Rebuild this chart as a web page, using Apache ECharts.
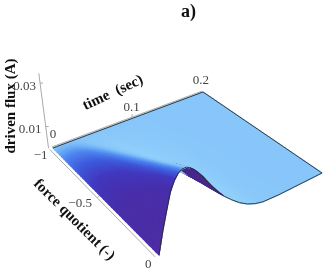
<!DOCTYPE html>
<html><head><meta charset="utf-8">
<style>html,body{margin:0;padding:0;background:#fff}#c{width:335px;height:276px}</style>
<script src="https://cdn.jsdelivr.net/npm/echarts@6/dist/echarts.min.js"></script>
</head><body><div id="c"></div>
<script>
// ---- data ----
const times = [0,.004,.008,.012,.016,.02,.024,.028,.032,.036,.04,.045,.05,.055,.06,.065,.07,.08,.09,.1,.11,.12,.14,.16,.2];
const forces = [-1,-.8,-.6,-.4,-.2,0];
// driven flux in milli-units, one row per force value
const fluxQm10 = [0,0,0,0,0,0,0,0,0,0,0,0,0,0,0,0,0,0,0,0,0,0,0,0,0];
const fluxQm08 = [0,1.6,3,4.4,5.1,5.6,5.8,5.8,5.6,5.3,5,4.6,4,3.5,3,2.6,2.2,1.6,1,.6,.3,.1,0,0,0];
const fluxQm06 = [0,3.2,6,8.7,10.2,11.2,11.5,11.6,11.2,10.7,10,9.1,8.1,7,6.1,5.2,4.4,3.1,2,1.1,.5,.2,0,0,0];
const fluxQm04 = [0,4.8,9,13.1,15.4,16.7,17.3,17.3,16.8,16,15,13.7,12.1,10.6,9.1,7.8,6.6,4.7,3,1.7,.8,.2,0,0,0];
const fluxQm02 = [0,6.4,12,17.4,20.5,22.3,23,23.1,22.4,21.4,20,18.2,16.2,14.1,12.2,10.4,8.8,6.2,4,2.2,1,.3,0,0,0];
const fluxQ00  = [0,8,15,21.8,25.6,27.9,28.8,28.9,28,26.7,25,22.8,20.2,17.6,15.2,13,11,7.8,5,2.8,1.3,.4,0,0,0];
const timeTicks = [0,0.1,0.2];
const forceTicks = [-1,-0.5,0];
const fluxTicks = [0.01,0.03];
const fluxRows = [fluxQm10,fluxQm08,fluxQm06,fluxQm04,fluxQm02,fluxQ00];

// ---- 3D box projection onto the page plane ----
const tMax = .2;
const box = {A:[53,148],B:[203,92],C:[322,173],D:[159,255]};
const fluxPx = 2170, fluxLean = .00107, leanX = 170;
const H = (() => {
  const {A,B,C,D} = box;
  const d1=[B[0]-C[0],B[1]-C[1]], d2=[D[0]-C[0],D[1]-C[1]], s=[A[0]-B[0]+C[0]-D[0],A[1]-B[1]+C[1]-D[1]];
  const det=d1[0]*d2[1]-d2[0]*d1[1];
  const g=(s[0]*d2[1]-d2[0]*s[1])/det, h=(d1[0]*s[1]-s[0]*d1[1])/det;
  return {g,h,a:B[0]*(1+g)-A[0],b:D[0]*(1+h)-A[0],c:A[0],d:B[1]*(1+g)-A[1],e:D[1]*(1+h)-A[1],f:A[1]};
})();
function weight(t,q){return 1+H.g*t/tMax+H.h*(q+1);}
function project(t,q,z){
  const u=t/tMax,v=q+1,w=1+H.g*u+H.h*v;
  const x=(H.a*u+H.b*v+H.c)/w,y=(H.d*u+H.e*v+H.f)/w;
  const h=z*fluxPx/w;
  return [x+(x-leanX)*fluxLean*h,y-h];
}

// ---- colour from local slope of the surface ----
const ramp=[[-.6,[152,216,253]],[-.2,[144,207,251]],[0,[136,198,250]],[.1,[112,178,247]],[.25,[80,135,240]],[.5,[62,90,220]],[.8,[66,56,190]],[1.2,[72,46,170]],[2.2,[78,44,160]]];
function slopeColor(s){
  if(s<=ramp[0][0])return ramp[0][1];
  for(let k=1;k<ramp.length;k++){if(s<=ramp[k][0]){const a=ramp[k-1],b=ramp[k],f=(s-a[0])/(b[0]-a[0]);return a[1].map((c,i)=>c+(b[1][i]-c)*f);}}
  return ramp[ramp.length-1][1];
}
const nodeSlope=fluxRows.map(r=>r.map((_,i)=>{
  const a=Math.max(i-2,0),b=Math.min(i+2,r.length-1);
  return (r[b]-r[a])/1000/(times[b]-times[a]);
}));
const backColor=[72,40,140];
const cells=[];
for(let j=0;j<forces.length-1;j++){
  for(let i=0;i<times.length-1;i++){
    const dt=times[i+1]-times[i],nu=times[i]<.04?4:Math.max(2,Math.ceil(dt/.004)),nv=8;
    const val=(a,b)=>{const r0=fluxRows[j],r1=fluxRows[j+1];return ((r0[i]*(1-a)+r0[i+1]*a)*(1-b)+(r1[i]*(1-a)+r1[i+1]*a)*b)/1000;};
    const slo=(a,b)=>{const r0=nodeSlope[j],r1=nodeSlope[j+1];return (r0[i]*(1-a)+r0[i+1]*a)*(1-b)+(r1[i]*(1-a)+r1[i+1]*a)*b;};
    for(let m=0;m<nu;m++)for(let n=0;n<nv;n++){
      const a0=m/nu,a1=(m+1)/nu,b0=n/nv,b1=(n+1)/nv;
      const tA=times[i]+dt*a0,tB=times[i]+dt*a1,qA=forces[j]+(forces[j+1]-forces[j])*b0,qB=forces[j]+(forces[j+1]-forces[j])*b1;
      const pts=[project(tA,qA,val(a0,b0)),project(tB,qA,val(a1,b0)),project(tB,qB,val(a1,b1)),project(tA,qB,val(a0,b1))];
      const cross=(pts[1][0]-pts[0][0])*(pts[3][1]-pts[0][1])-(pts[1][1]-pts[0][1])*(pts[3][0]-pts[0][0]);
      const s=slo((a0+a1)/2,(b0+b1)/2);
      const under=cross<0&&((qB>-.25&&(s<-.4||(tA>.055&&s<-.15)))||(qA>-.15&&s<-.15));
      const col=under?backColor:slopeColor(s);
      // the rising face is always nearest to the viewer, so it is painted after the falling sheet
      const pass=s>0&&tB<.03?1:0;
      cells.push({pts,col:`rgb(${col.map(Math.round).join(',')})`,pass,t:tA,depth:weight((tA+tB)/2,(qA+qB)/2)});
    }
  }
}
cells.sort((a,b)=>a.pass-b.pass||(a.pass?b.t-a.t||b.depth-a.depth:b.depth-a.depth));

const grey='#aaaaaa',edge='#2b2b2b';
const tickFont='13px "Liberation Serif"',tickCol='#444';
const axisT=-.004,axisQ=-1.012;
const lines=[];const labels=[];
const add=(a,b,c,wd)=>lines.push({a,b,c,wd});
add(project(0,axisQ,0),project(tMax,axisQ,0),grey,1);
add(project(axisT,-1,0),project(axisT,0,0),grey,1);
add(project(axisT,axisQ,0),project(axisT,axisQ,.0345),grey,1);
const tLabelOff={0:[1,-12],0.1:[0,-10],0.2:[-1,-11]};
timeTicks.forEach(t=>{const p=project(t,axisQ,0);if(t>0&&t<tMax)add(p,[p[0]+.5,p[1]-3],grey,1);const o=tLabelOff[t];labels.push({p:[p[0]+o[0],p[1]+o[1]],s:String(t)});});
const qLabelOff={'-1':[-9,6],'-0.5':[-17,6],'0':[-7,8]};
forceTicks.forEach(q=>{const p=project(axisT,q,0);if(q>-1&&q<0)add(p,[p[0]+3,p[1]-3],grey,1);const o=qLabelOff[String(q)];labels.push({p:[p[0]+o[0],p[1]+o[1]],s:String(q).replace('-','\u2212')});});
const zLabelOff=[-15.5,3];
fluxTicks.forEach(z=>{const p=project(axisT,axisQ,z);add(p,[p[0]+3,p[1]],grey,1);labels.push({p:[p[0]+zLabelOff[0],p[1]+zLabelOff[1]],s:String(z)});});
function edgePath(ts,qs,zs){return ts.map((t,i)=>project(t,qs[i],zs[i]/1000));}
const frontEdge=edgePath(times,times.map(()=>0),fluxQ00);
const backEdge=edgePath(times,times.map(()=>-1),fluxQm10);
const lastIdx=times.length-1;
const endEdge=edgePath(forces.map(()=>tMax),forces,fluxRows.map(r=>r[lastIdx]));

const chart=echarts.init(document.getElementById('c'),null,{renderer:'canvas'});
chart.setOption({
  animation:false,backgroundColor:'#fff',
  grid:{left:0,right:0,top:0,bottom:0},
  xAxis:{type:'value',min:0,max:335,show:false},
  yAxis:{type:'value',min:0,max:276,inverse:true,show:false},
  graphic:[
    {type:'text',left:181,top:3,style:{text:'a)',font:'bold 18px "Liberation Serif"',fill:'#111'}},
    {type:'text',x:113,y:93,rotation:.44,style:{text:'time  (sec)',font:'bold 15px "Liberation Serif"',fill:'#111',align:'center',verticalAlign:'middle'}},
    {type:'text',x:11,y:106,rotation:Math.PI/2,style:{text:'driven flux (A)',font:'bold 15px "Liberation Serif"',fill:'#111',align:'center',verticalAlign:'middle'}},
    {type:'text',x:74,y:220,rotation:-Math.PI/4,style:{text:'force quotient (-)',font:'bold 15px "Liberation Serif"',fill:'#111',align:'center',verticalAlign:'middle'}}
  ],
  series:[
    {type:'custom',coordinateSystem:'cartesian2d',silent:true,clip:false,z:1,large:false,progressive:0,data:lines.map((_,i)=>[i]),
     renderItem:(p,api)=>{const l=lines[api.value(0)],a=api.coord(l.a),b=api.coord(l.b);
       return {type:'line',shape:{x1:a[0],y1:a[1],x2:b[0],y2:b[1]},style:{stroke:l.c,lineWidth:l.wd}};}},
    {type:'custom',coordinateSystem:'cartesian2d',silent:true,clip:false,z:2,progressive:0,data:cells.map((_,i)=>[i]),
     renderItem:(p,api)=>{const c=cells[api.value(0)];
       return {type:'polygon',shape:{points:c.pts.map(q=>api.coord(q))},style:{fill:c.col,stroke:c.col,lineWidth:1.2}};}},
    {type:'custom',coordinateSystem:'cartesian2d',silent:true,clip:false,z:3,data:[[0],[1],[2]],
     renderItem:(p,api)=>{const e=[frontEdge,backEdge,endEdge][api.value(0)];
       return {type:'polyline',shape:{points:e.map(q=>api.coord(q)),smooth:0},style:{stroke:edge,lineWidth:.9,fill:null}};}},
    {type:'custom',coordinateSystem:'cartesian2d',silent:true,clip:false,z:4,data:labels.map((_,i)=>[i]),
     renderItem:(p,api)=>{const l=labels[api.value(0)],a=api.coord(l.p);
       return {type:'text',x:a[0],y:a[1],style:{text:l.s,font:tickFont,fill:tickCol,align:'center',verticalAlign:'middle'}};}}
  ]
});
</script></body></html>
